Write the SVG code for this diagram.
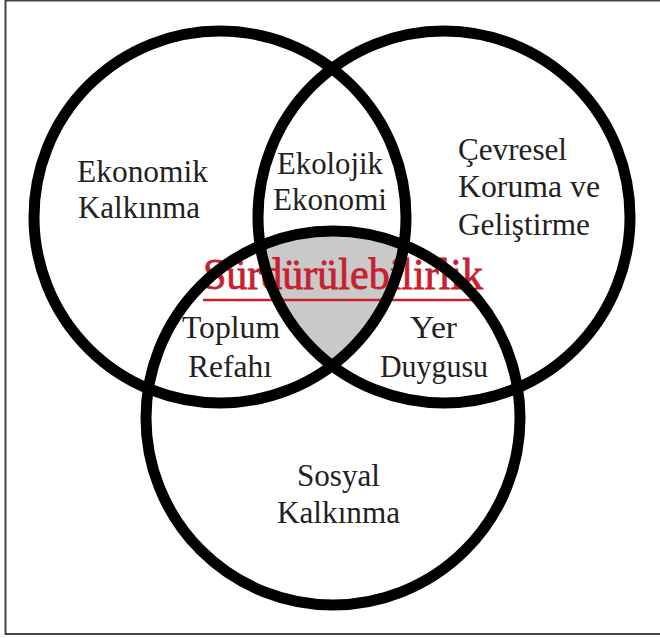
<svg xmlns="http://www.w3.org/2000/svg" width="660" height="638" viewBox="0 0 660 638">
<defs>
<style>
.ring{fill:none;stroke:#000;stroke-width:11}
.lbl{font-family:'Liberation Serif','DejaVu Serif',serif;font-size:31px;fill:#222}
.red{font-family:'Liberation Serif','DejaVu Serif',serif;font-size:44px;fill:#c8202f;stroke:#c8202f;stroke-width:0.8}
</style>
<clipPath id="cA"><circle cx="220" cy="217" r="186"/></clipPath>
<clipPath id="cB"><circle cx="444" cy="217" r="186"/></clipPath>
</defs>
<rect x="0" y="0" width="660" height="638" fill="#fff"/>
<rect id="frame" x="5.5" y="0.5" width="660" height="633.5" fill="none" stroke="#444" stroke-width="2"/>
<g id="center-area" clip-path="url(#cA)">
<g clip-path="url(#cB)">
<circle cx="333" cy="418" r="187" fill="#c9c9c9"/>
</g>
</g>
<g id="title">
<text class="red" x="203" y="289" textLength="280" lengthAdjust="spacingAndGlyphs">Sürdürülebilirlik</text>
<line x1="203" y1="300" x2="483" y2="300" stroke="#c8202f" stroke-width="2.5"/>
</g>
<g id="connectors">
<circle id="ring-ekonomik" class="ring" cx="220" cy="217" r="186"/>
<circle id="ring-cevresel" class="ring" cx="444" cy="217" r="186"/>
<circle id="ring-sosyal" class="ring" cx="333" cy="418" r="187"/>
</g>
<g id="node-ekonomik">
<text class="lbl" x="77" y="182" textLength="131" lengthAdjust="spacingAndGlyphs">Ekonomik</text>
<text class="lbl" x="78" y="218" textLength="122" lengthAdjust="spacingAndGlyphs">Kalkınma</text>
</g>
<g id="node-ekolojik">
<text class="lbl" x="277" y="174" textLength="106" lengthAdjust="spacingAndGlyphs">Ekolojik</text>
<text class="lbl" x="273" y="210" textLength="114" lengthAdjust="spacingAndGlyphs">Ekonomi</text>
</g>
<g id="node-cevresel">
<text class="lbl" x="458" y="160" textLength="109" lengthAdjust="spacingAndGlyphs">Çevresel</text>
<text class="lbl" x="458" y="197" textLength="142" lengthAdjust="spacingAndGlyphs">Koruma ve</text>
<text class="lbl" x="458" y="235" textLength="132" lengthAdjust="spacingAndGlyphs">Geliştirme</text>
</g>
<g id="node-toplum">
<text class="lbl" x="182" y="338" textLength="98" lengthAdjust="spacingAndGlyphs">Toplum</text>
<text class="lbl" x="188" y="377" textLength="84" lengthAdjust="spacingAndGlyphs">Refahı</text>
</g>
<g id="node-yer">
<text class="lbl" x="410" y="338" textLength="47" lengthAdjust="spacingAndGlyphs">Yer</text>
<text class="lbl" x="380" y="377" textLength="108" lengthAdjust="spacingAndGlyphs">Duygusu</text>
</g>
<g id="node-sosyal">
<text class="lbl" x="297" y="486" textLength="83" lengthAdjust="spacingAndGlyphs">Sosyal</text>
<text class="lbl" x="277" y="523" textLength="123" lengthAdjust="spacingAndGlyphs">Kalkınma</text>
</g>
</svg>
